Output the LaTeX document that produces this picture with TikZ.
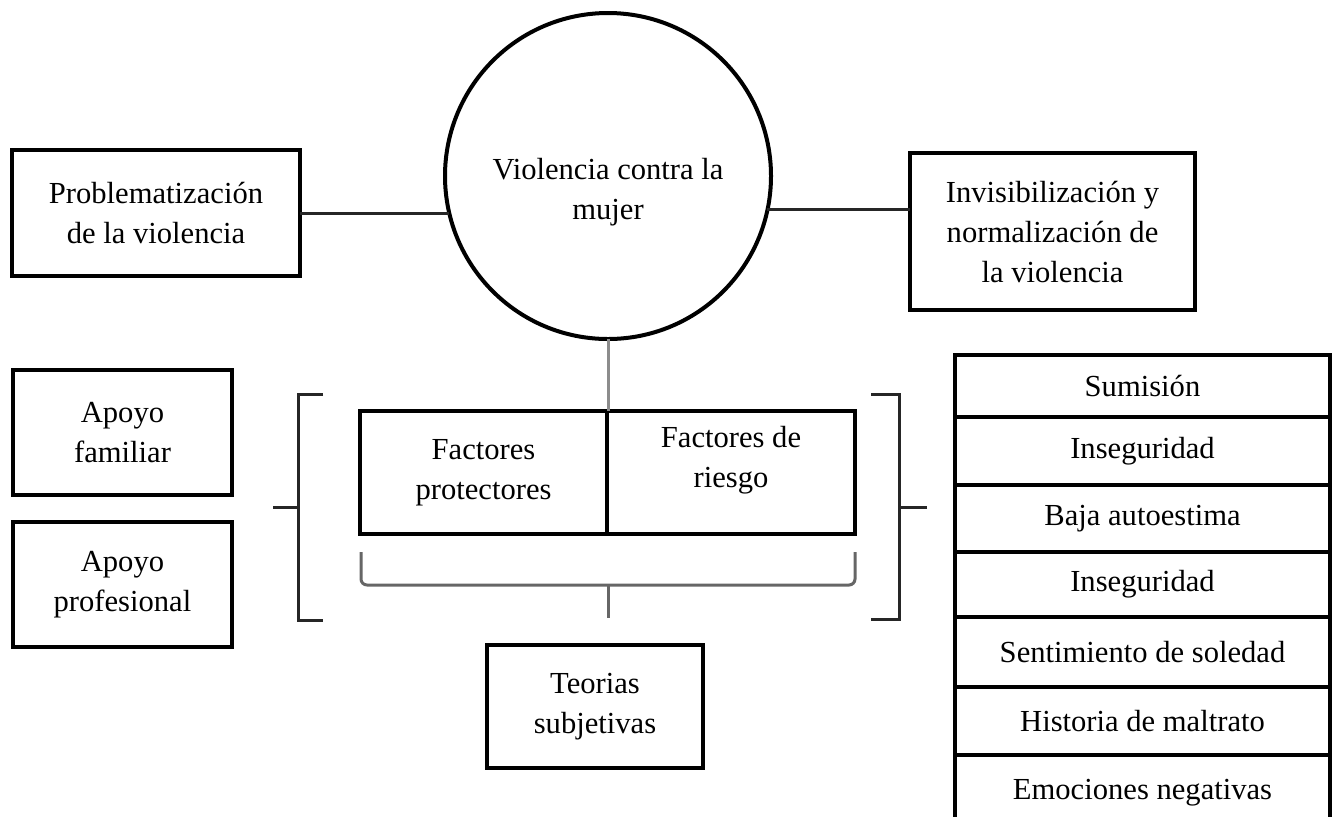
\documentclass[tikz,border=0pt]{standalone}
\usepackage{fontspec}
\setmainfont{Liberation Serif}
\tikzset{
  txt/.style={align=center, font=\fontsize{15.3}{20}\selectfont},
  box/.style={txt, draw, line width=2.2pt, inner sep=0pt, outer sep=0pt},
  rowbox/.style={box, minimum width=187.5pt},
  conn/.style={line width=1.5pt, black!85},
  graylink/.style={line width=1.5pt, black!45},
  brk/.style={line width=1.5pt, black!85},
  gbrace/.style={line width=1.5pt, black!60, rounded corners=3pt},
}
\begin{document}
\begin{tikzpicture}[x=0.5pt, y=-0.5pt]
\useasboundingbox (0,0) rectangle (1336,816);
\fill[white] (0,0) rectangle (1336,816);
\clip (0,0) rectangle (1336,816);

% top row
\node[box, minimum width=144pt, minimum height=63pt] (prob) at (156,213) {Problematización\\de la violencia};
\node[circle, draw, line width=2pt, minimum size=163pt, inner sep=0pt, outer sep=0pt] (circ) at (608,176) {};
\node[txt] (circtext) at (608,192) {Violencia contra la\\mujer};
\node[box, minimum width=142.5pt, minimum height=78.5pt] (invis) at (1052.5,231.5) {Invisibilización y\\normalización de\\la violencia};

\draw[conn] (prob.east) -- (prob.east -| circ.193.5);
\draw[conn] (circ.-12.4) -- (circ.-12.4 -| invis.west);

% left boxes
\node[box, minimum width=109.5pt, minimum height=62.5pt] (fam) at (122.5,432.5) {Apoyo\\familiar};
\node[box, minimum width=109.5pt, minimum height=62.5pt] (prof) at (122.5,584.5) {Apoyo\\profesional};

% factores
\node[box, minimum width=123.5pt, minimum height=61.5pt] (fp) at (483.5,472.5) {Factores\\protectores};
\node[box, minimum width=124pt, minimum height=61.5pt] (fr) at (731,472.5) {Factores de\\riesgo\\[-4pt]};

\draw[graylink] (circ.south) -- (circ.south |- fp.north);

% brackets
\coordinate (lbt) at (323,394);
\coordinate (lbx) at (298,507);
\coordinate (lbb) at (323,620);
\coordinate (lbtick) at (273,507);
\draw[brk] (lbt) -| (lbx) |- (lbb);
\draw[brk] (lbtick) -- (lbx);

\coordinate (rbt) at (871,394);
\coordinate (rbx) at (899,507);
\coordinate (rbb) at (871,619);
\coordinate (rbtick) at (927,507);
\draw[brk] (rbt) -| (rbx) |- (rbb);
\draw[brk] (rbtick) -- (rbx);

% bottom brace
\coordinate (bl) at (361,552);
\coordinate (br) at (855,552);
\coordinate (bm) at (608,585);
\coordinate (bt) at (608,618);
\draw[gbrace] (bl) |- (bm) -| (br);
\draw[gbrace] (bm) -- (bt);

% teorias
\node[box, minimum width=108pt, minimum height=61.5pt] (teo) at (595,706.5) {Teorias\\subjetivas};

% right list
\node[rowbox, minimum height=31pt] (r1) at (1142.5,386) {Sumisión};
\node[rowbox, minimum height=34pt] (r2) at (1142.5,451) {Inseguridad};
\node[rowbox, minimum height=33.5pt] (r3) at (1142.5,518.5) {Baja autoestima};
\node[rowbox, minimum height=32.5pt] (r4) at (1142.5,584.5) {Inseguridad};
\node[rowbox, minimum height=35pt] (r5) at (1142.5,652) {Sentimiento de soledad};
\node[rowbox, minimum height=34pt] (r6) at (1142.5,721) {Historia de maltrato};
\node[rowbox, minimum height=37.5pt] (r7) at (1142.5,792.5) {Emociones negativas};
\end{tikzpicture}
\end{document}
